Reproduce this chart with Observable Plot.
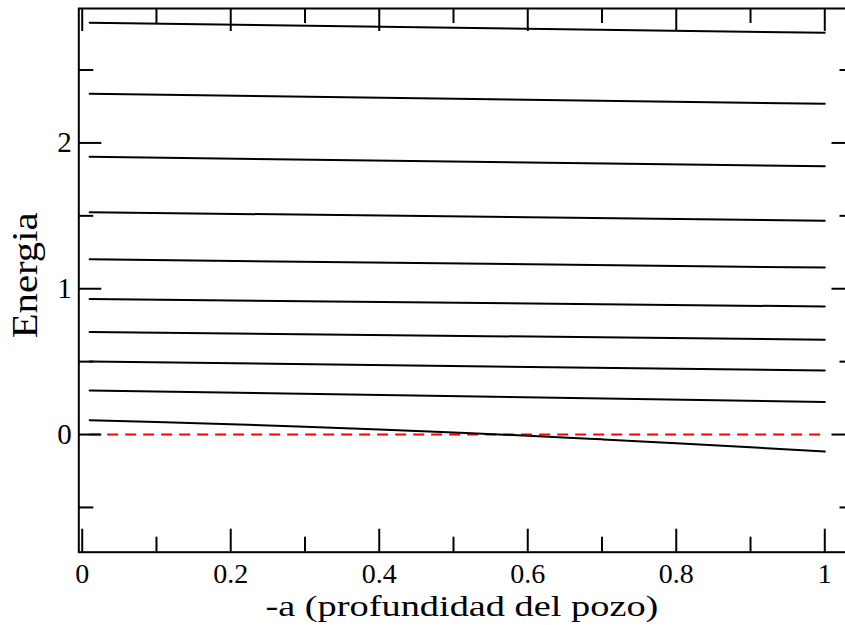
<!DOCTYPE html>
<html>
<head>
<meta charset="utf-8">
<script src="https://cdn.jsdelivr.net/npm/d3@7"></script>
<script src="https://cdn.jsdelivr.net/npm/@observablehq/plot@0.6"></script>
<style>
  html, body { margin: 0; padding: 0; background: #fff; overflow: hidden; }
  #chart svg { display: block; }
  #chart svg text { font-family: "Liberation Serif", "Times New Roman", Times, serif; }
</style>
</head>
<body>
<div id="chart"></div>
<script>
// ---- data ----
const levelX = [0.01, 1.0];
const levelStart = [2.824, 2.337, 1.905, 1.525, 1.202, 0.930, 0.704, 0.501, 0.302];
const levelEnd   = [2.755, 2.268, 1.840, 1.466, 1.145, 0.878, 0.650, 0.439, 0.224];
const groundX = [0.01, 0.1, 0.2, 0.3, 0.4, 0.5, 0.6, 0.7, 0.8, 0.9, 1.0];
const groundE = [0.098, 0.086, 0.071, 0.054, 0.035, 0.014, -0.008, -0.033, -0.059, -0.087, -0.117];
const zeroLine = [{y: 0, x1: 0.01, x2: 1.0}];

const xMajor = [0, 0.2, 0.4, 0.6, 0.8, 1];
const xMinor = [0.1, 0.3, 0.5, 0.7, 0.9];
const yMajor = [0, 1, 2];
const yMinor = [-0.5, 0.5, 1.5, 2.5];
const xTickLabels = ["0", "0.2", "0.4", "0.6", "0.8", "1"];
const yTickLabels = ["0", "1", "2"];
const xTitle = "-a (profundidad del pozo)";
const yTitle = "Energia";

// ---- build the table for the line mark ----
const lines = [];
levelStart.forEach((s, i) => {
  lines.push({x: levelX[0], e: s, id: i});
  lines.push({x: levelX[1], e: levelEnd[i], id: i});
});
groundX.forEach((x, i) => lines.push({x, e: groundE[i], id: levelStart.length}));

// ---- layout ----
const W = 845, H = 625;
const mL = 78.3, mR = -9.5, mT = 8, mB = 73.3;
const fw = W - mL - mR;
const fh = H - mT - mB;
const majorLen = 23, minorLen = 15;
const font = "Liberation Serif";

const chart = Plot.plot({
  width: W,
  height: H,
  marginLeft: mL,
  marginRight: mR,
  marginTop: mT,
  marginBottom: mB,
  x: {domain: [-0.0046, 1.0407], label: null},
  y: {domain: [-0.807, 2.922], label: null},
  style: {fontFamily: font, background: "white", color: "black"},
  marks: [
    Plot.ruleY(zeroLine, {y: "y", x1: "x1", x2: "x2", stroke: "#ff0000", strokeWidth: 2, strokeDasharray: "11,7"}),
    Plot.line(lines, {x: "x", y: "e", z: "id", stroke: "black", strokeWidth: 2, curve: "monotone-x"}),
    // inward ticks, bottom & top
    Plot.tickX(xMajor, {x: d => d, insetTop: fh - majorLen, strokeWidth: 2, stroke: "black"}),
    Plot.tickX(xMinor, {x: d => d, insetTop: fh - minorLen, strokeWidth: 2, stroke: "black"}),
    Plot.tickX(xMajor, {x: d => d, insetBottom: fh - majorLen, strokeWidth: 2, stroke: "black"}),
    Plot.tickX(xMinor, {x: d => d, insetBottom: fh - minorLen, strokeWidth: 2, stroke: "black"}),
    // inward ticks, left & right
    Plot.tickY(yMajor, {y: d => d, insetRight: fw - majorLen, strokeWidth: 2, stroke: "black"}),
    Plot.tickY(yMinor, {y: d => d, insetRight: fw - minorLen, strokeWidth: 2, stroke: "black"}),
    Plot.tickY(yMajor, {y: d => d, insetLeft: fw - majorLen, strokeWidth: 2, stroke: "black"}),
    Plot.tickY(yMinor, {y: d => d, insetLeft: fw - minorLen, strokeWidth: 2, stroke: "black"}),
    Plot.frame({stroke: "black", strokeWidth: 2}),
    Plot.axisX(xMajor, {anchor: "bottom", tickSize: 0, tickPadding: 11, fontSize: 28, fontFamily: font,
      fontVariant: "normal", tickFormat: (d, i) => xTickLabels[i], label: null}),
    Plot.axisY(yMajor, {anchor: "left", tickSize: 0, tickPadding: 7, fontSize: 29, fontFamily: font,
      fontVariant: "normal", tickFormat: (d, i) => yTickLabels[i], label: null}),
    Plot.text([xTitle], {text: d => d, frameAnchor: "bottom", textAnchor: "middle", lineAnchor: "bottom",
      dy: 63.3, dx: -5, fontSize: 30, fontFamily: font, className: "xtitle"}),
    Plot.text([yTitle], {text: d => d, frameAnchor: "left", textAnchor: "middle", lineAnchor: "bottom",
      rotate: -90, dx: -41.6, dy: -5, fontSize: 35, fontFamily: font, className: "ytitle"})
  ]
});
// stretch the titles to the width they have in the reference
d3.select(chart).selectAll(".xtitle text").attr("textLength", 393).attr("lengthAdjust", "spacingAndGlyphs");
d3.select(chart).selectAll(".ytitle text").attr("textLength", 126).attr("lengthAdjust", "spacingAndGlyphs");
document.getElementById("chart").appendChild(chart);
</script>
</body>
</html>
